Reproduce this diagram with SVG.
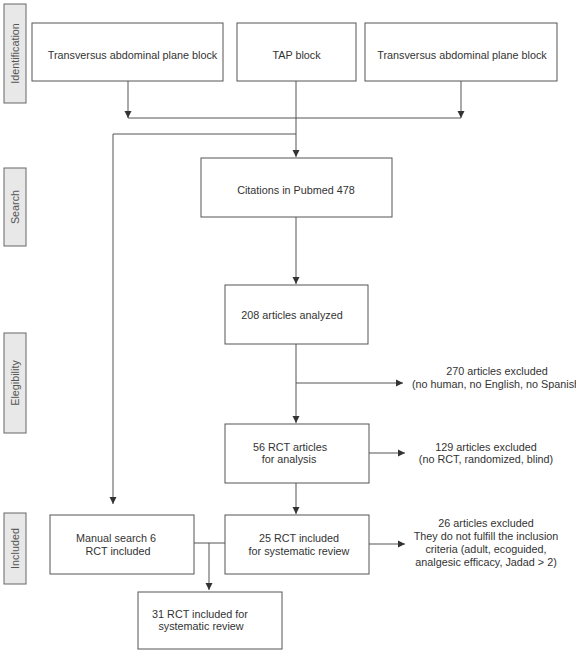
<svg xmlns="http://www.w3.org/2000/svg" width="576" height="650" viewBox="0 0 576 650">
<style>
.box{fill:#fff;stroke:#555;stroke-width:1}
.lab{fill:#e8e8e8;stroke:#666;stroke-width:1}
.t{font-family:"Liberation Sans",Arial,sans-serif;font-size:10.8px;fill:#333;text-anchor:middle}
.lt{font-family:"Liberation Sans",Arial,sans-serif;font-size:10.8px;fill:#555;text-anchor:middle}
.c{fill:none;stroke:#555;stroke-width:1}
</style>
<defs>
<marker id="ah" markerWidth="8" markerHeight="8" refX="7" refY="4" orient="auto" markerUnits="userSpaceOnUse">
<path d="M0,0.5 L7,4 L0,7.5 Z" fill="#333"/>
</marker>
</defs>
<rect width="576" height="650" fill="#fff"/>
<g id="phase-labels">
<g id="lab-identification"><rect class="lab" x="4" y="4" width="22" height="99"/><text class="lt" transform="translate(19,53.5) rotate(-90)">Identification</text></g>
<g id="lab-search"><rect class="lab" x="4" y="168" width="22" height="78"/><text class="lt" transform="translate(19,207) rotate(-90)">Search</text></g>
<g id="lab-elegibility"><rect class="lab" x="4" y="333" width="22" height="100"/><text class="lt" transform="translate(19,383) rotate(-90)">Elegibility</text></g>
<g id="lab-included"><rect class="lab" x="4" y="513" width="22" height="71"/><text class="lt" transform="translate(19,548.5) rotate(-90)">Included</text></g>
</g>
<g id="connectors">
<path class="c" d="M128,81 V118" marker-end="url(#ah)"/>
<path class="c" d="M461,81 V118" marker-end="url(#ah)"/>
<path class="c" d="M128,118 H461"/>
<path class="c" d="M296,81 V157" marker-end="url(#ah)"/>
<path class="c" d="M296,134 H113 V504" marker-end="url(#ah)"/>
<path class="c" d="M296,217 V284" marker-end="url(#ah)"/>
<path class="c" d="M296,344 V423" marker-end="url(#ah)"/>
<path class="c" d="M296,383 H403" marker-end="url(#ah)"/>
<path class="c" d="M369,453 H405" marker-end="url(#ah)"/>
<path class="c" d="M296,483 V514" marker-end="url(#ah)"/>
<path class="c" d="M369,544 H405" marker-end="url(#ah)"/>
<path class="c" d="M194,543 H225"/>
<path class="c" d="M209,543 V590" marker-end="url(#ah)"/>
</g>
<g id="n-tap1"><rect class="box" x="32" y="23" width="191" height="58"/><text class="t" x="132.5" y="58.5">Transversus abdominal plane block</text></g>
<g id="n-tap2"><rect class="box" x="237" y="23" width="119" height="58"/><text class="t" x="296.5" y="58.5">TAP block</text></g>
<g id="n-tap3"><rect class="box" x="365" y="23" width="192" height="58"/><text class="t" x="462" y="58.5">Transversus abdominal plane block</text></g>
<g id="n-citations"><rect class="box" x="201" y="158" width="191" height="59"/><text class="t" x="296" y="194">Citations in Pubmed 478</text></g>
<g id="n-208"><rect class="box" x="225" y="285" width="143" height="59"/><text class="t" x="292" y="318.5">208 articles analyzed</text></g>
<g id="n-270"><text class="t" x="497" y="374.5">270 articles excluded</text><text class="t" x="412" y="387.5" style="text-anchor:start">(no human, no English, no Spanish)</text></g>
<g id="n-56"><rect class="box" x="225" y="424" width="144" height="59"/><text class="t" x="290" y="450.5">56 RCT articles</text><text class="t" x="289" y="463">for analysis</text></g>
<g id="n-129"><text class="t" x="486" y="450.5">129 articles excluded</text><text class="t" x="486" y="463">(no RCT, randomized, blind)</text></g>
<g id="n-manual"><rect class="box" x="50" y="515" width="144" height="59"/><text class="t" x="116" y="541.5">Manual search 6</text><text class="t" x="118" y="554.5">RCT included</text></g>
<g id="n-25"><rect class="box" x="225" y="515" width="144" height="59"/><text class="t" x="299" y="541.5">25 RCT included</text><text class="t" x="299" y="554.5">for systematic review</text></g>
<g id="n-26"><text class="t" x="486" y="527">26 articles excluded</text><text class="t" x="486" y="540">They do not fulfill the inclusion</text><text class="t" x="486" y="553">criteria (adult, ecoguided,</text><text class="t" x="486" y="566">analgesic efficacy, Jadad &gt; 2)</text></g>
<g id="n-31"><rect class="box" x="138" y="592" width="144" height="57"/><text class="t" x="200" y="617.5">31 RCT included for</text><text class="t" x="201" y="630">systematic review</text></g>
</svg>
